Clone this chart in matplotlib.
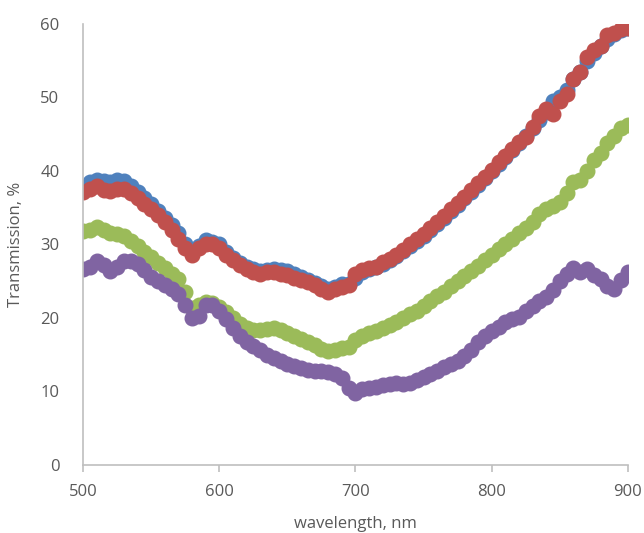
import matplotlib
matplotlib.use("Agg")
import matplotlib.pyplot as plt
import numpy as np

wavelength = list(range(500, 901, 5))

blue = [37.5, 38.5, 38.8, 38.7, 38.5, 38.8, 38.6, 38.0, 37.2, 36.3,
        35.5, 34.6, 33.6, 32.6, 31.5, 30.0, 29.0, 29.8, 30.6, 30.4,
        30.0, 29.0, 28.2, 27.5, 27.0, 26.6, 26.4, 26.5, 26.6, 26.5,
        26.4, 26.0, 25.6, 25.2, 24.8, 24.3, 24.0, 24.2, 24.6, 24.6,
        25.5, 26.2, 26.6, 27.0, 27.4, 27.9, 28.5, 29.1, 29.8, 30.5,
        31.2, 32.0, 32.8, 33.6, 34.5, 35.4, 36.3, 37.2, 38.1, 39.0,
        40.0, 41.0, 41.9, 42.9, 43.8, 44.7, 45.8, 47.0, 48.0, 49.5,
        50.0, 51.0, 52.5, 53.5, 55.0, 56.0, 57.0, 58.0, 58.6, 59.2, 59.5]

red = [37.2, 37.5, 37.9, 37.4, 37.3, 37.6, 37.6, 37.0, 36.3, 35.5,
       34.8, 34.0, 33.0, 32.0, 30.8, 29.5, 28.6, 29.5, 30.0, 30.0,
       29.5, 28.6, 27.9, 27.2, 26.7, 26.2, 26.0, 26.2, 26.3, 26.0,
       25.8, 25.5, 25.2, 24.9, 24.5, 23.9, 23.5, 23.9, 24.2, 24.5,
       26.0, 26.5, 26.8, 27.0, 27.6, 28.0, 28.6, 29.3, 30.0, 30.8,
       31.4, 32.3, 33.0, 33.9, 34.8, 35.6, 36.5, 37.4, 38.3, 39.2,
       40.1, 41.2, 42.0, 43.0, 43.9, 44.6, 46.0, 47.5, 48.5, 47.8,
       49.5, 50.5, 52.5, 53.5, 55.5, 56.5, 57.0, 58.5, 58.8, 59.3, 59.5]

green = [31.8, 32.0, 32.4, 32.0, 31.5, 31.4, 31.2, 30.5, 29.8, 29.0,
         28.3, 27.5, 26.8, 26.0, 25.3, 23.5, 21.3, 21.8, 22.2, 22.0,
         21.5, 20.8, 20.0, 19.2, 18.6, 18.3, 18.3, 18.5, 18.6, 18.3,
         18.0, 17.6, 17.2, 16.8, 16.3, 15.8, 15.5, 15.6, 15.9, 16.0,
         17.0, 17.6, 18.0, 18.2, 18.6, 19.0, 19.5, 20.0, 20.6, 21.0,
         21.6, 22.3, 23.0, 23.6, 24.3, 25.0, 25.7, 26.4, 27.1, 27.9,
         28.6, 29.4, 30.0, 30.8, 31.6, 32.3, 33.0, 34.2, 34.8, 35.3,
         35.8, 37.0, 38.5, 38.8, 40.0, 41.5, 42.5, 43.8, 44.8, 45.8, 46.3]

purple = [26.7, 27.0, 27.8, 27.2, 26.4, 27.0, 27.8, 27.8, 27.3, 26.5,
          25.6, 25.0, 24.5, 24.0, 23.3, 21.8, 20.0, 20.3, 21.8, 21.8,
          21.0, 19.8, 18.6, 17.6, 16.8, 16.2, 15.6, 15.0, 14.6, 14.2,
          13.8, 13.4, 13.2, 12.9, 12.8, 12.8, 12.7, 12.4, 11.8, 10.5,
          9.8, 10.3, 10.5, 10.6, 10.9, 11.0, 11.1, 11.0, 11.2, 11.5,
          12.0, 12.4, 12.8, 13.3, 13.8, 14.2, 14.8, 15.6, 16.8, 17.5,
          18.2, 18.8, 19.4, 19.8, 20.2, 21.0, 21.6, 22.3, 22.8, 23.8,
          25.0, 26.0, 26.8, 26.2, 26.6, 25.8, 25.3, 24.3, 24.0, 25.2, 26.2]

series = [(blue, "#4F81BD"), (red, "#C0504D"), (green, "#9BBB59"), (purple, "#8064A2")]

plt.rcParams['font.family'] = ['Open Sans', 'DejaVu Sans']

fig = plt.figure(figsize=(6.44, 5.33), dpi=100)
ax = fig.add_axes([0.129, 0.1276, 0.846, 0.8274])

for vals, col in series:
    ax.plot(wavelength, vals, linestyle='none', marker='o', markersize=10.5,
            markerfacecolor=col, markeredgecolor=col, markeredgewidth=1.0)

ax.set_xlim(500, 900)
ax.set_ylim(0, 60)
ax.set_xticks([500, 600, 700, 800, 900])
ax.set_yticks([0, 10, 20, 30, 40, 50, 60])

for s in ['top', 'right']:
    ax.spines[s].set_visible(False)
for s in ['left', 'bottom']:
    ax.spines[s].set_color('#bfbfbf')
    ax.spines[s].set_linewidth(1.2)

txt = '#595959'
ax.tick_params(axis='x', direction='out', length=5, width=1.2, color='#bfbfbf',
               labelsize=12, labelcolor=txt, pad=9)
ax.tick_params(axis='y', length=0, labelsize=12, labelcolor=txt, pad=17)

ax.set_xlabel('wavelength, nm', fontsize=12, color=txt, labelpad=11)
ax.set_ylabel('Transmission, %', fontsize=12, color=txt, labelpad=12)

fig.savefig('out.png', dpi=100)
